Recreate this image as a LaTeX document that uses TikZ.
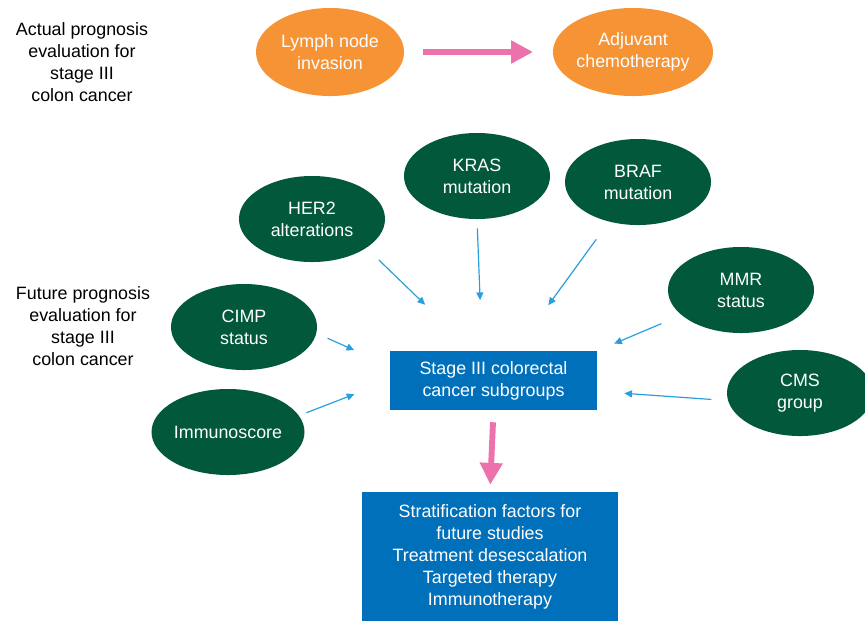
\documentclass[tikz,border=0pt]{standalone}
\usepackage{fontspec}
\setmainfont{Liberation Sans}
\usepackage{tikz}
\usetikzlibrary{shapes.geometric,arrows.meta}
\definecolor{orangeell}{RGB}{246,147,52}
\definecolor{greenell}{RGB}{2,88,58}
\definecolor{boxblue}{RGB}{0,112,187}
\definecolor{pinkarrow}{RGB}{236,114,172}
\definecolor{linkblue}{RGB}{40,160,222}
\tikzset{
    base text/.style={font=\fontsize{12.7}{15.6}\selectfont, align=center},
    current factor/.style={ellipse, base text, fill=orangeell, text=white, minimum width=3.7cm, minimum height=2.2cm, inner sep=0pt},
    future factor/.style={ellipse, base text, fill=greenell, text=white, minimum width=3.65cm, minimum height=2.15cm, inner sep=0pt},
    subgroup box/.style={rectangle, base text, fill=boxblue, text=white, inner sep=0pt},
    side label/.style={base text, text=black},
    big arrow/.style={-{Triangle[length=15.5pt,width=15.5pt]}, line width=3.8pt, pinkarrow},
    factor arrow/.style={-{Triangle[length=5.5pt,width=5pt]}, line width=0.85pt, linkblue}
}

\begin{document}
\begin{tikzpicture}[x=0.025cm, y=-0.025cm]
    \useasboundingbox (0,0) rectangle (865,621);

    % Actual prognosis row
    \node[side label] (actual) at (82,62) {Actual prognosis\\evaluation for\\stage III\\colon cancer};
    \node[current factor] (lymph) at (330,52) {Lymph node\\invasion};
    \node[current factor] (adjuvant) at (633,52) {Adjuvant\\chemotherapy};
    \draw[big arrow, shorten <=13.5pt, shorten >=14pt] (lymph.east) -- (adjuvant.west);

    % Future prognosis factors
    \node[side label] (future) at (83,326) {Future prognosis\\evaluation for\\stage III\\colon cancer};
    \node[future factor] (kras) at (477,176) {KRAS\\mutation};
    \node[future factor] (braf) at (638,182) {BRAF\\mutation};
    \node[future factor] (her2) at (312,219) {HER2\\alterations};
    \node[future factor] (mmr) at (741,290) {MMR\\status};
    \node[future factor] (cimp) at (244,327) {CIMP\\status};
    \node[future factor] (cms) at (800,393) {CMS\\group};
    \node[future factor, minimum width=3.75cm] (immuno) at (228,432) {Immunoscore};

    % Subgroups and outcome
    \node[subgroup box, minimum width=5.175cm, minimum height=1.475cm] (stage) at (493.5,380.5) {Stage III colorectal\\cancer subgroups};
    \node[subgroup box, minimum width=6.4cm, minimum height=3.225cm] (result) at (490,556.5) {Stratification factors for\\future studies\\Treatment desescalation\\Targeted therapy\\Immunotherapy};

    % Factor arrows
    \draw[factor arrow, shorten <=12.4pt, shorten >=47pt] (her2.-28) -- (stage.125);
    \draw[factor arrow, shorten <=6.4pt, shorten >=36pt] (kras.south) -- (stage.111);
    \draw[factor arrow, shorten <=15.5pt, shorten >=40pt] (braf) -- (stage);
    \draw[factor arrow, shorten <=15.5pt, shorten >=13pt] (mmr) -- (stage.north east);
    \draw[factor arrow, shorten <=8.6pt, shorten >=27.6pt] (cimp.-5) -- (stage.172);
    \draw[factor arrow, shorten <=5.6pt, shorten >=26.9pt] (immuno.13) -- (stage.west);
    \draw[factor arrow, shorten <=11.8pt, shorten >=19.2pt] (cms.186) -- (stage.-6);

    \draw[big arrow, line width=4.2pt, shorten <=8.5pt, shorten >=5pt] (stage.south) -- (result.north);
\end{tikzpicture}
\end{document}
